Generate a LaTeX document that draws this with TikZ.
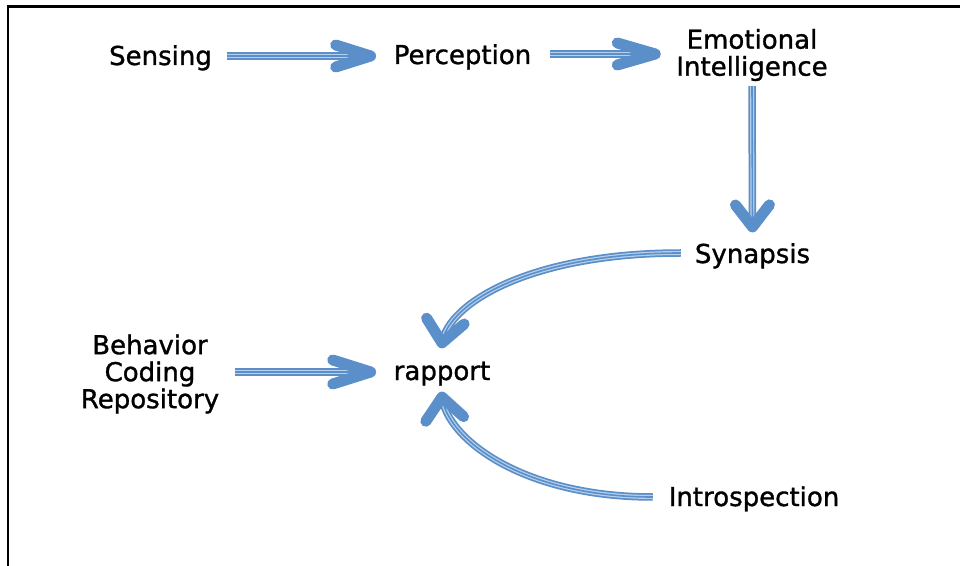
\documentclass[tikz,border=0pt]{standalone}
\usepackage{fontspec}
\setmainfont{DejaVu Sans}
\newfontfamily\lblfont[FakeBold=1.2]{DejaVu Sans}
\usetikzlibrary{decorations.markings,calc}
\definecolor{arrblue}{HTML}{5B8FC9}
\definecolor{arrlight}{HTML}{B8D0EC}
\tikzset{
  lbl/.style={font=\lblfont\fontsize{26}{27}\selectfont, inner sep=0pt, outer sep=0pt, align=center, text=black},
  oneline/.style={lbl, text height=19pt, text depth=7pt, anchor=base},
  tipline/.style={draw=arrblue, line width=11pt, line cap=round, line join=round},
  flow/.style 2 args={draw=arrblue, line width=7.5pt,
    postaction={draw=arrlight, line width=4pt},
    postaction={draw=arrblue, line width=1.6pt},
    postaction={decorate, decoration={markings,
      mark=at position 0.9995 with {\draw[tipline] (-#1,#2) -- (0pt,0pt) -- (-#1,-#2);}}}},
  frameline/.style={draw=black, line cap=rect}
}
\begin{document}
\begin{tikzpicture}[x=1pt,y=1pt]
\useasboundingbox (0,0) rectangle (960,565);
\fill[white] (0,0) rectangle (960,565);
% frame
\draw[frameline, line width=3pt] (8.3,558.5) -- (962,558.5);
\draw[frameline, line width=2pt] (8.3,558.5) -- (8.3,-2);
% nodes
\node[oneline] (sens) at (160.5,500) {Sensing};
\node[oneline] (perc) at (462.5,501) {Perception};
\node[lbl] (emo) at (752,510) {Emotional\\Intelligence};
\node[oneline] (syn) at (752.5,302) {Synapsis};
\node[oneline] (rap) at (442,185) {rapport};
\node[lbl] (beh) at (150,191) {Behavior\\Coding\\Repository};
\node[oneline] (intro) at (754,59) {Introspection};
% connectors
\draw[flow={35pt}{11pt}] ([xshift=15pt,yshift=3pt]sens.east) -- ([xshift=-23pt,yshift=2pt]perc.west);
\draw[flow={38pt}{11pt}] ([xshift=19pt,yshift=4pt]perc.east) -- ([xshift=-21pt,yshift=1pt]emo.west);
\draw[flow={22pt}{17pt}] ([yshift=-5pt]emo.south) -- ([yshift=17pt]syn.north);
\draw[flow={22pt}{19pt}] ([xshift=-14pt,yshift=4pt]syn.west) .. controls +(-150,0) and +(6,40) .. ([yshift=18pt]rap.north);
\draw[flow={38pt}{12pt}] ([xshift=16pt,yshift=2pt]beh.east) -- ([xshift=-23pt,yshift=2pt]rap.west);
\draw[flow={22pt}{19pt}] ([xshift=-16pt,yshift=3pt]intro.west) .. controls +(-130,0) and +(5,-42) .. ([yshift=-10pt]rap.south);
\end{tikzpicture}
\end{document}
